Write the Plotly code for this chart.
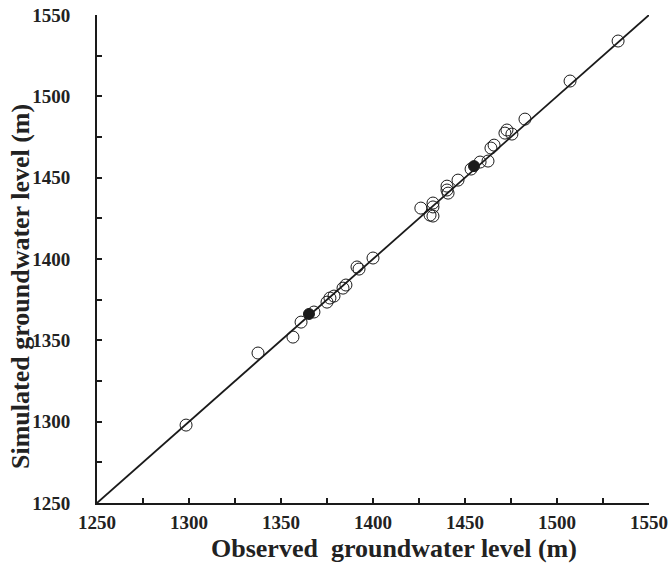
import plotly.graph_objects as go

# Observed vs simulated groundwater level (m)
observed = [1298.4, 1337.5, 1356.5, 1360.9, 1367.9, 1375.0, 1376.6, 1378.8, 1383.7, 1385.3,
            1391.3, 1392.4, 1400.0, 1426.0, 1431.0, 1432.6, 1432.6, 1432.6, 1440.2, 1440.2,
            1440.8, 1446.2, 1453.3, 1458.2, 1462.5, 1464.1, 1465.8, 1471.7, 1472.8, 1475.5,
            1482.6, 1507.1, 1533.2]
simulated = [1297.9, 1342.2, 1352.0, 1361.2, 1367.4, 1373.5, 1376.0, 1377.2, 1382.1, 1384.0,
             1395.1, 1393.8, 1400.6, 1431.3, 1427.0, 1426.4, 1434.4, 1432.0, 1444.8, 1442.4,
             1440.5, 1448.5, 1455.3, 1459.6, 1460.2, 1468.2, 1470.0, 1477.4, 1479.3, 1476.8,
             1486.0, 1509.4, 1534.0]

# highlighted (filled) wells
observed_filled = [1365.2, 1454.9]
simulated_filled = [1366.2, 1457.1]

# 1:1 line
line_vals = [1250, 1550]

tick_vals = [1250, 1275, 1300, 1325, 1350, 1375, 1400, 1425, 1450, 1475, 1500, 1525, 1550]
tick_text = ["1250", "", "1300", "", "1350", "", "1400", "", "1450", "", "1500", "", "1550"]

x_title = "Observed&nbsp; groundwater level (m)"
y_title = "Simulated groundwater level (m)"

font_family = "Liberation Serif, Times New Roman, serif"
ink = "#1a1a1a"

fig = go.Figure()
fig.add_trace(go.Scatter(x=line_vals, y=line_vals, mode="lines",
                         line=dict(color=ink, width=1.8), hoverinfo="skip",
                         showlegend=False, cliponaxis=False))
fig.add_trace(go.Scatter(x=observed, y=simulated, mode="markers",
                         marker=dict(symbol="circle-open", size=12, color=ink,
                                     line=dict(width=1)),
                         showlegend=False, cliponaxis=False))
fig.add_trace(go.Scatter(x=observed_filled, y=simulated_filled, mode="markers",
                         marker=dict(symbol="circle", size=11, color=ink,
                                     line=dict(width=1, color=ink)),
                         showlegend=False, cliponaxis=False))

axis_common = dict(
    range=[1250, 1550], tickmode="array", tickvals=tick_vals, ticktext=tick_text,
    ticks="inside", ticklen=5, tickwidth=1.5, tickcolor=ink,
    showline=True, linecolor=ink, linewidth=2, mirror=False,
    showgrid=False, zeroline=False,
    tickfont=dict(family=font_family, size=19, color="#222222", weight="bold"),
)

fig.update_xaxes(**axis_common, ticklabelstandoff=1)
fig.update_yaxes(**axis_common, ticklabelstandoff=21)

# plot area: x 97..649, y 15..503 (px)
fig.add_annotation(text="<b>" + x_title + "</b>", xref="paper", yref="paper",
                   x=(394 - 97) / 552, y=-(548 - 503) / 488, xanchor="center", yanchor="middle",
                   showarrow=False, font=dict(family=font_family, size=26, color="#222222"))
fig.add_annotation(text="<b>" + y_title + "</b>", xref="paper", yref="paper",
                   x=-(97 - 20) / 552, y=(503 - 287) / 488, xanchor="center", yanchor="middle",
                   textangle=-90, showarrow=False,
                   font=dict(family=font_family, size=26, color="#222222"))

fig.update_layout(
    width=670, height=576,
    margin=dict(l=97, r=21, t=15, b=73, autoexpand=False),
    plot_bgcolor="white", paper_bgcolor="white",
    font=dict(family=font_family, size=18, color="#222222"),
)

fig.write_html("out.html", config={"displayModeBar": False},
               post_script="document.body.style.margin='0';")
